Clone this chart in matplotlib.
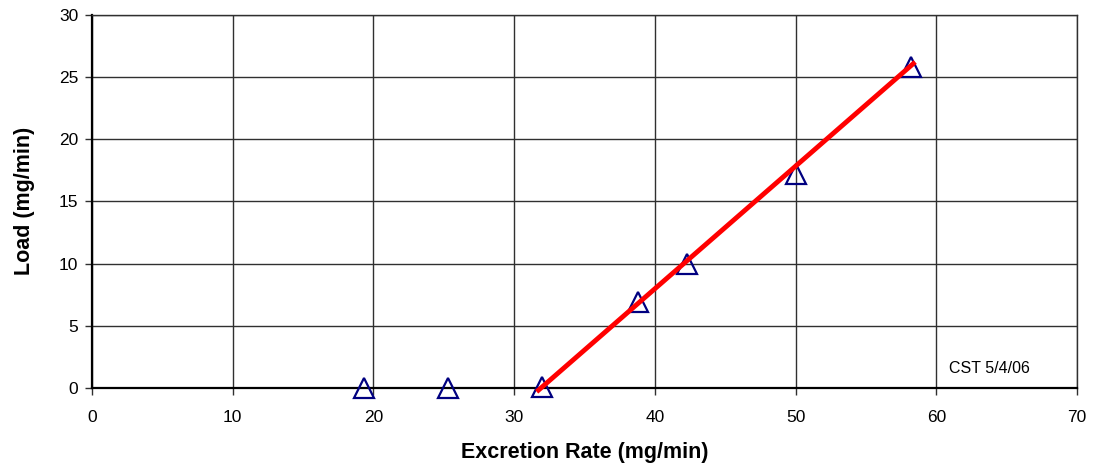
import matplotlib
matplotlib.use("Agg")
import matplotlib.pyplot as plt

excretion = [19.3, 25.3, 32.0, 38.8, 42.3, 50.0, 58.2]
load = [0.0, 0.0, 0.1, 6.9, 10.0, 17.2, 25.8]
fit_x = [31.6, 58.5]
fit_y = [-0.3, 26.2]
xticks = [0, 10, 20, 30, 40, 50, 60, 70]
yticks = [0, 5, 10, 15, 20, 25, 30]

plt.rcParams['font.family'] = ['Liberation Sans', 'DejaVu Sans']

fig = plt.figure(figsize=(10.96, 4.69), dpi=100)
ax = fig.add_axes([92/1096, 81/469, 985/1096, 373.3/469])

ax.set_xlim(0, 70)
ax.set_ylim(0, 30)
ax.set_xticks(xticks)
ax.set_yticks(yticks)
ax.grid(True, color='#303030', linewidth=1.0)
ax.set_axisbelow(True)

ax.plot(excretion, load, linestyle='none', marker='^', markersize=15,
        markerfacecolor='none', markeredgecolor='#000080', markeredgewidth=1.6,
        clip_on=False, zorder=3)
ax.plot(fit_x, fit_y, color='#ff0000', linewidth=3.5, clip_on=False,
        solid_capstyle='butt', zorder=4)

for side in ['top', 'right']:
    ax.spines[side].set_color('#303030')
    ax.spines[side].set_linewidth(1.0)
for side in ['left', 'bottom']:
    ax.spines[side].set_color('black')
    ax.spines[side].set_linewidth(1.6)

ax.tick_params(axis='both', direction='out', length=5, width=1, labelsize=12.5,
               color='#303030')
ax.tick_params(axis='x', pad=11)
ax.tick_params(axis='y', pad=5)

ax.set_xlabel('Excretion Rate (mg/min)', fontsize=15.5, fontweight='bold', labelpad=12)
ax.set_ylabel('Load (mg/min)', fontsize=15.5, fontweight='bold', labelpad=17)

ax.text(60.9, 1.6, 'CST 5/4/06', fontsize=11.5, ha='left', va='center')

fig.savefig('out.png', dpi=100)
